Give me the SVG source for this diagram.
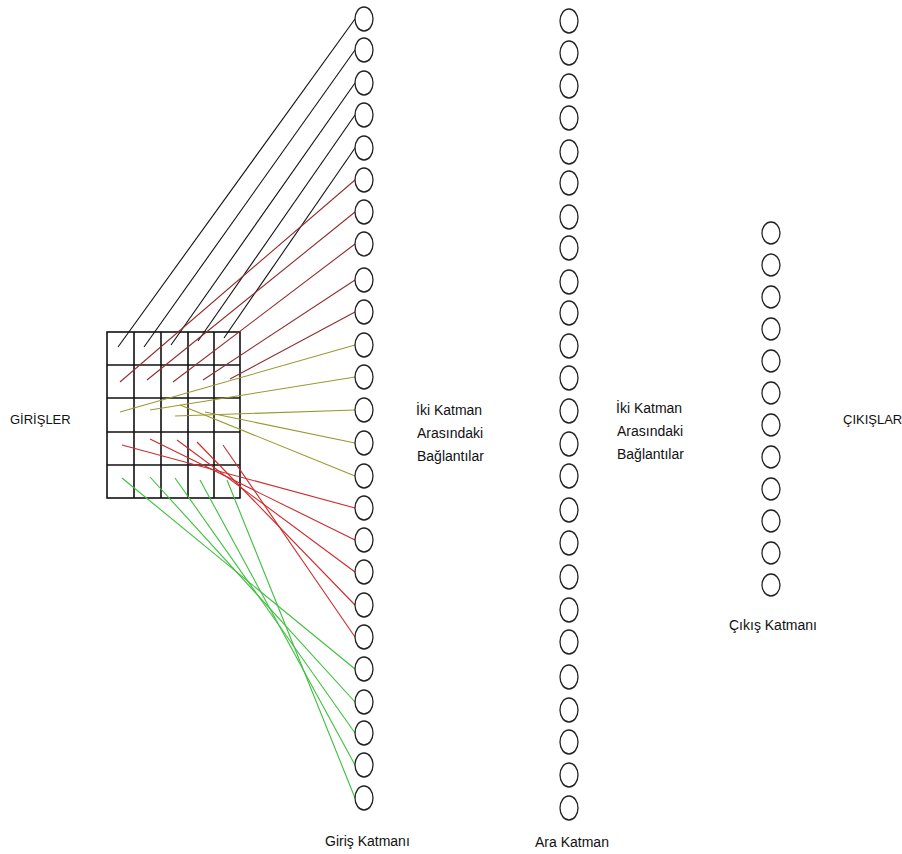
<svg xmlns="http://www.w3.org/2000/svg" width="902" height="854" viewBox="0 0 902 854">
<style>
.n{fill:none;stroke:#222;stroke-width:1.3}
.t{font-family:"Liberation Sans",Arial,sans-serif;font-size:14px;fill:#111}
.s{font-size:13px}
.g{fill:none;stroke:#111;stroke-width:1.6}
.c line{stroke-width:1.1}
.k{stroke:#111}
.m{stroke:#8f2e2e}
.o{stroke:#99992e}
.r{stroke:#cc2a2a}
.e{stroke:#3dbf3d}
</style>
<rect width="902" height="854" fill="#fff"/>
<g id="inputs-grid">
<rect class="g" x="107" y="332" width="133" height="166"/>
<path class="g" d="M134 332V498M161 332V498M188 332V498M214 332V498M107 365H240M107 398H240M107 432H240M107 465H240"/>
</g>
<g id="connectors" class="c">
<line class="k" x1="118" y1="347" x2="355" y2="19"/>
<line class="k" x1="144" y1="347" x2="355" y2="50"/>
<line class="k" x1="171" y1="345" x2="355" y2="83"/>
<line class="k" x1="198" y1="341" x2="355" y2="115"/>
<line class="k" x1="224" y1="338" x2="355" y2="148"/>
<line class="m" x1="120" y1="382" x2="355" y2="180"/>
<line class="m" x1="147" y1="380" x2="355" y2="212"/>
<line class="m" x1="173" y1="382" x2="355" y2="244"/>
<line class="m" x1="203" y1="380" x2="355" y2="280"/>
<line class="m" x1="230" y1="379" x2="355" y2="312"/>
<line class="o" x1="120" y1="412" x2="355" y2="345"/>
<line class="o" x1="150" y1="410" x2="355" y2="377"/>
<line class="o" x1="175" y1="416" x2="355" y2="410"/>
<line class="o" x1="205" y1="412" x2="355" y2="443"/>
<line class="o" x1="180" y1="405" x2="355" y2="476"/>
<line class="r" x1="122" y1="445" x2="355" y2="508"/>
<line class="r" x1="150" y1="439" x2="355" y2="540"/>
<line class="r" x1="177" y1="440" x2="355" y2="572"/>
<line class="r" x1="197" y1="442" x2="355" y2="605"/>
<line class="r" x1="223" y1="445" x2="355" y2="637"/>
<line class="e" x1="122" y1="478" x2="355" y2="669"/>
<line class="e" x1="150" y1="477" x2="355" y2="702"/>
<line class="e" x1="175" y1="478" x2="355" y2="733"/>
<line class="e" x1="200" y1="480" x2="355" y2="765"/>
<line class="e" x1="227" y1="480" x2="355" y2="798"/>
</g>
<g id="input-layer">
<ellipse class="n" cx="364" cy="19" rx="9" ry="12"/>
<ellipse class="n" cx="364" cy="50" rx="9" ry="12"/>
<ellipse class="n" cx="364" cy="83" rx="9" ry="12"/>
<ellipse class="n" cx="364" cy="115" rx="9" ry="12"/>
<ellipse class="n" cx="364" cy="148" rx="9" ry="12"/>
<ellipse class="n" cx="364" cy="180" rx="9" ry="12"/>
<ellipse class="n" cx="364" cy="212" rx="9" ry="12"/>
<ellipse class="n" cx="364" cy="244" rx="9" ry="12"/>
<ellipse class="n" cx="364" cy="280" rx="9" ry="12"/>
<ellipse class="n" cx="364" cy="312" rx="9" ry="12"/>
<ellipse class="n" cx="364" cy="345" rx="9" ry="12"/>
<ellipse class="n" cx="364" cy="377" rx="9" ry="12"/>
<ellipse class="n" cx="364" cy="410" rx="9" ry="12"/>
<ellipse class="n" cx="364" cy="443" rx="9" ry="12"/>
<ellipse class="n" cx="364" cy="476" rx="9" ry="12"/>
<ellipse class="n" cx="364" cy="508" rx="9" ry="12"/>
<ellipse class="n" cx="364" cy="540" rx="9" ry="12"/>
<ellipse class="n" cx="364" cy="572" rx="9" ry="12"/>
<ellipse class="n" cx="364" cy="605" rx="9" ry="12"/>
<ellipse class="n" cx="364" cy="637" rx="9" ry="12"/>
<ellipse class="n" cx="364" cy="669" rx="9" ry="12"/>
<ellipse class="n" cx="364" cy="702" rx="9" ry="12"/>
<ellipse class="n" cx="364" cy="733" rx="9" ry="12"/>
<ellipse class="n" cx="364" cy="765" rx="9" ry="12"/>
<ellipse class="n" cx="364" cy="798" rx="9" ry="12"/>
</g>
<g id="hidden-layer">
<ellipse class="n" cx="569" cy="21" rx="9" ry="12"/>
<ellipse class="n" cx="569" cy="53" rx="9" ry="12"/>
<ellipse class="n" cx="569" cy="86" rx="9" ry="12"/>
<ellipse class="n" cx="569" cy="118" rx="9" ry="12"/>
<ellipse class="n" cx="569" cy="152" rx="9" ry="12"/>
<ellipse class="n" cx="569" cy="183" rx="9" ry="12"/>
<ellipse class="n" cx="569" cy="217" rx="9" ry="12"/>
<ellipse class="n" cx="569" cy="248" rx="9" ry="12"/>
<ellipse class="n" cx="569" cy="282" rx="9" ry="12"/>
<ellipse class="n" cx="569" cy="313" rx="9" ry="12"/>
<ellipse class="n" cx="569" cy="346" rx="9" ry="12"/>
<ellipse class="n" cx="569" cy="378" rx="9" ry="12"/>
<ellipse class="n" cx="569" cy="411" rx="9" ry="12"/>
<ellipse class="n" cx="569" cy="444" rx="9" ry="12"/>
<ellipse class="n" cx="569" cy="476" rx="9" ry="12"/>
<ellipse class="n" cx="569" cy="510" rx="9" ry="12"/>
<ellipse class="n" cx="569" cy="543" rx="9" ry="12"/>
<ellipse class="n" cx="569" cy="577" rx="9" ry="12"/>
<ellipse class="n" cx="569" cy="610" rx="9" ry="12"/>
<ellipse class="n" cx="569" cy="642" rx="9" ry="12"/>
<ellipse class="n" cx="569" cy="677" rx="9" ry="12"/>
<ellipse class="n" cx="569" cy="710" rx="9" ry="12"/>
<ellipse class="n" cx="569" cy="742" rx="9" ry="12"/>
<ellipse class="n" cx="569" cy="775" rx="9" ry="12"/>
<ellipse class="n" cx="569" cy="808" rx="9" ry="12"/>
</g>
<g id="output-layer">
<ellipse class="n" cx="771" cy="233" rx="9" ry="11"/>
<ellipse class="n" cx="771" cy="265" rx="9" ry="11"/>
<ellipse class="n" cx="771" cy="297" rx="9" ry="11"/>
<ellipse class="n" cx="771" cy="329" rx="9" ry="11"/>
<ellipse class="n" cx="771" cy="361" rx="9" ry="11"/>
<ellipse class="n" cx="771" cy="393" rx="9" ry="11"/>
<ellipse class="n" cx="771" cy="425" rx="9" ry="11"/>
<ellipse class="n" cx="771" cy="457" rx="9" ry="11"/>
<ellipse class="n" cx="771" cy="489" rx="9" ry="11"/>
<ellipse class="n" cx="771" cy="521" rx="9" ry="11"/>
<ellipse class="n" cx="771" cy="553" rx="9" ry="11"/>
<ellipse class="n" cx="771" cy="585" rx="9" ry="11"/>
</g>
<g id="labels">
<text class="t s" x="10" y="424">GİRİŞLER</text>
<text class="t s" x="843" y="424">ÇIKIŞLAR</text>
<text class="t" x="416" y="415">İki Katman</text>
<text class="t" x="417" y="438">Arasındaki</text>
<text class="t" x="417" y="461">Bağlantılar</text>
<text class="t" x="616" y="413">İki Katman</text>
<text class="t" x="617" y="436">Arasındaki</text>
<text class="t" x="617" y="459">Bağlantılar</text>
<text class="t" x="325" y="846">Giriş Katmanı</text>
<text class="t" x="535" y="847">Ara Katman</text>
<text class="t" x="729" y="630">Çıkış Katmanı</text>
</g>
</svg>
